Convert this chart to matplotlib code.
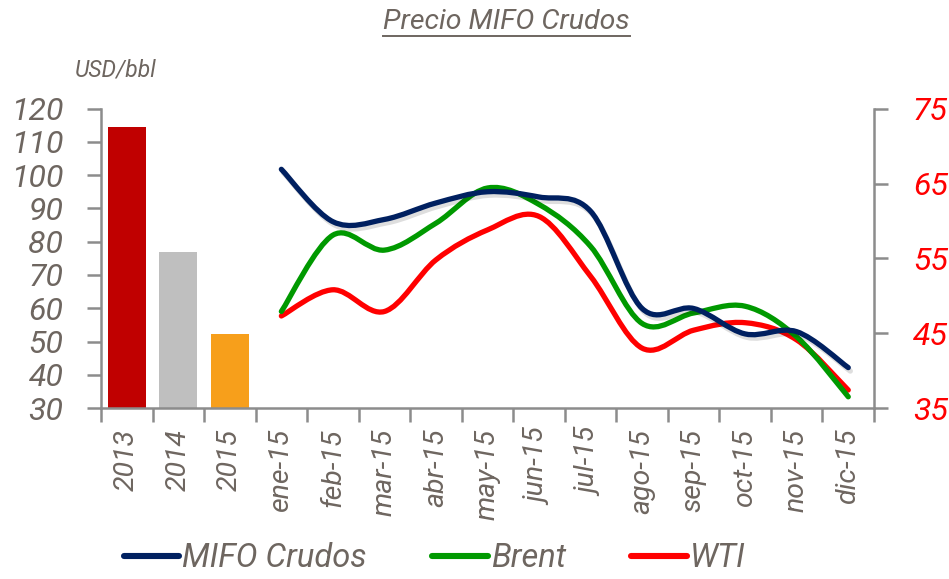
import numpy as np
import matplotlib
matplotlib.use("Agg")
import matplotlib.pyplot as plt
from matplotlib.path import Path
from matplotlib.patches import PathPatch
from matplotlib.lines import Line2D
import matplotlib.patheffects as pe

# annual averages (left axis, USD/bbl)
years = ["2013", "2014", "2015"]
year_avg = [114.5, 76.8, 52.3]

# monthly 2015 prices (right axis)
months = ["ene-15", "feb-15", "mar-15", "abr-15", "may-15", "jun-15",
          "jul-15", "ago-15", "sep-15", "oct-15", "nov-15", "dic-15"]
mifo = [66.9, 59.9, 60.2, 62.4, 63.9, 63.2, 61.3, 48.3, 48.3, 44.9, 45.2, 40.4]
brent = [47.9, 58.1, 56.1, 59.7, 64.4, 62.2, 56.6, 46.3, 47.7, 48.6, 44.5, 36.5]
wti = [47.3, 50.8, 47.9, 54.8, 58.8, 60.6, 52.6, 43.0, 45.4, 46.4, 44.1, 37.4]

bar_colors = ["#C00000", "#BFBFBF", "#F79F1B"]
c_mifo, c_brent, c_wti = "#002060", "#009900", "#FF0000"
txt = "#6E6660"
grid_c = "#8C8C8C"

plt.rcParams["font.family"] = ["Roboto", "DejaVu Sans"]
plt.rcParams["font.style"] = "italic"


def smooth_path(x, y):
    # cubic bezier through the points (Excel-like smoothed line)
    x = np.asarray(x, float)
    y = np.asarray(y, float)
    n = len(x)
    verts = [(x[0], y[0])]
    codes = [Path.MOVETO]
    for i in range(n - 1):
        i0 = max(i - 1, 0)
        i3 = min(i + 2, n - 1)
        c1 = (x[i] + (x[i + 1] - x[i0]) / 6, y[i] + (y[i + 1] - y[i0]) / 6)
        c2 = (x[i + 1] - (x[i3] - x[i]) / 6, y[i + 1] - (y[i3] - y[i]) / 6)
        verts += [c1, c2, (x[i + 1], y[i + 1])]
        codes += [Path.CURVE4] * 3
    return Path(verts, codes)


fig = plt.figure(figsize=(9.49, 5.79), dpi=100)
ax = fig.add_axes([0.1064, 0.2953, 0.8146, 0.517])

cats = years + months
xb = np.arange(len(years))
ax.bar(xb, year_avg, width=0.74, color=bar_colors, zorder=2)
ax.set_ylim(30, 120)
ax.set_yticks(np.arange(30, 121, 10))
ax.set_xlim(-0.5, len(cats) - 0.5)

ax.set_xticks(np.arange(-0.5, len(cats), 1))
ax.set_xticklabels([])
ax.set_xticks(np.arange(len(cats)), minor=True)
ax.set_xticklabels(cats, minor=True, rotation=90)
ax.tick_params(axis="x", which="major", length=10, width=1.8, color=grid_c, direction="out")
ax.tick_params(axis="x", which="minor", length=0, pad=15, labelsize=20.5, labelcolor=txt)
ax.tick_params(axis="y", length=10, width=1.8, color=grid_c, pad=17, labelsize=23, labelcolor=txt)

for s in ["top", "right"]:
    ax.spines[s].set_visible(False)
for s in ["left", "bottom"]:
    ax.spines[s].set_color(grid_c)
    ax.spines[s].set_linewidth(1.8)

ax2 = ax.twinx()
ax2.set_ylim(35, 75)
ax2.set_yticks(np.arange(35, 76, 10))
ax2.tick_params(axis="y", length=10, width=1.8, color=grid_c, pad=18, labelsize=23, labelcolor="#FF0000")
for s in ["top", "left", "bottom"]:
    ax2.spines[s].set_visible(False)
ax2.spines["right"].set_color(grid_c)
ax2.spines["right"].set_linewidth(1.8)

xm = np.arange(len(years), len(cats))
lw = 3.8
for vals, col, shadow in [(wti, c_wti, False), (brent, c_brent, False), (mifo, c_mifo, True)]:
    patch = PathPatch(smooth_path(xm, vals), fill=False, edgecolor=col, lw=lw,
                      capstyle="round", joinstyle="round", zorder=3)
    if shadow:
        patch.set_path_effects([pe.SimpleLineShadow(offset=(1.5, -2.5), shadow_color="k", alpha=0.13),
                                pe.Normal()])
    ax2.add_patch(patch)

# title with underline
t = fig.text(0.534, 0.962, "Precio MIFO Crudos", ha="center", va="center", fontsize=20.5, color=txt)
fig.text(75 / 949, 1 - 70 / 579, "USD/bbl", ha="left", va="center", fontsize=16.5, color=txt)
fig.canvas.draw()
bb = t.get_window_extent()
W, H = fig.bbox.width, fig.bbox.height
fig.add_artist(Line2D([bb.x0 / W, bb.x1 / W], [(bb.y0 - 1) / H] * 2,
                      transform=fig.transFigure, color=txt, lw=1.4))

handles = [Line2D([], [], color=c, lw=4.4, solid_capstyle="round") for c in (c_mifo, c_brent, c_wti)]
leg = fig.legend(handles, ["MIFO Crudos", "Brent", "WTI"], loc="center",
                 bbox_to_anchor=(0.458, 0.036), ncol=3, frameon=False, fontsize=23.5,
                 handlelength=1.7, handletextpad=0.1, columnspacing=2.0)
for tx in leg.get_texts():
    tx.set_color(txt)

fig.savefig("out.png", dpi=100)
